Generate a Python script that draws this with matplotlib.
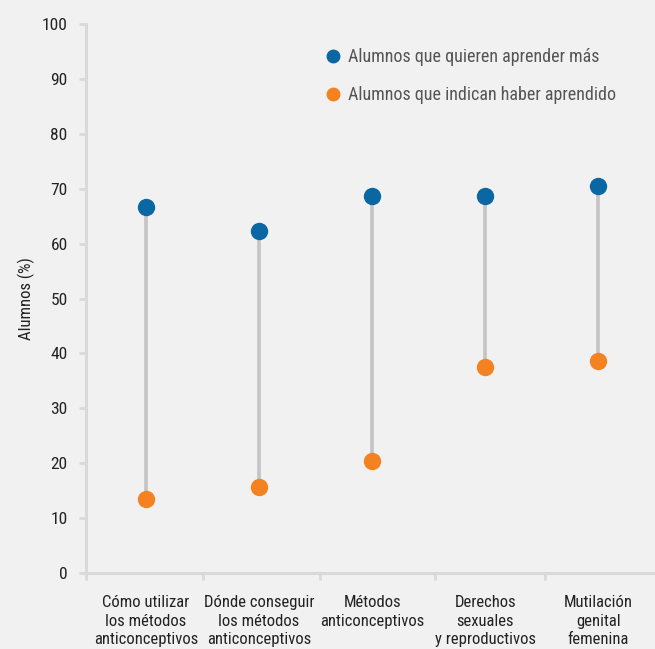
import numpy as np
import matplotlib
matplotlib.use("Agg")
import matplotlib.pyplot as plt
from matplotlib.lines import Line2D

plt.rcParams["font.family"] = ["Roboto Condensed", "Lato", "DejaVu Sans"]

categorias = ["Cómo utilizar\nlos métodos\nanticonceptivos",
              "Dónde conseguir\nlos métodos\nanticonceptivos",
              "Métodos\nanticonceptivos",
              "Derechos\nsexuales\ny reproductivos",
              "Mutilación\ngenital\nfemenina"]
quieren = [66.7, 62.3, 68.7, 68.7, 70.5]
aprendido = [13.5, 15.7, 20.4, 37.5, 38.6]

azul = "#0a67a3"
naranja = "#f58220"
fondo = "#f1f1f1"
gris = "#d9d9d9"

fig = plt.figure(figsize=(6.55, 6.49), dpi=100, facecolor=fondo)
ax = fig.add_axes([0.131, 0.117, 0.869, 0.846], facecolor=fondo)

x = np.arange(len(categorias))
ax.vlines(x, aprendido, quieren, color="#c4c4c4", lw=2.6, zorder=1)
ax.plot(x, quieren, "o", color=azul, ms=11.5, zorder=2)
ax.plot(x, aprendido, "o", color=naranja, ms=11.5, zorder=2)

ax.set_ylim(0, 100)
ax.set_xlim(-0.53, 4.5)
ax.set_yticks(range(0, 101, 10))
ax.set_xticks(x)
ax.set_xticklabels(categorias, fontsize=12, color="#222222", linespacing=1.3)
ax.set_xticks([-0.53, 0.51, 1.54, 2.56, 3.53], minor=True)
ax.tick_params(axis="x", which="major", length=0, pad=16)
ax.tick_params(axis="x", which="minor", length=5, width=2, color=gris)
ax.tick_params(axis="y", length=5, width=2, color=gris, labelsize=12.5, labelcolor="#222222", pad=8)

for s in ["top", "right"]:
    ax.spines[s].set_visible(False)
for s in ["left", "bottom"]:
    ax.spines[s].set_color(gris)
    ax.spines[s].set_linewidth(2.2)

ax.set_ylabel("Alumnos (%)", fontsize=12, color="#222222", labelpad=5)

handles = [Line2D([], [], ls="", marker="o", color=azul, ms=9),
           Line2D([], [], ls="", marker="o", color=naranja, ms=9)]
ax.legend(handles, ["Alumnos que quieren aprender más", "Alumnos que indican haber aprendido"],
          loc="upper left", bbox_to_anchor=(0.39, 0.985), frameon=False,
          fontsize=13, labelcolor="#555555", handletextpad=0.35, labelspacing=1.1,
          handlelength=1.0)

fig.savefig("out.png", dpi=100, facecolor=fondo)
